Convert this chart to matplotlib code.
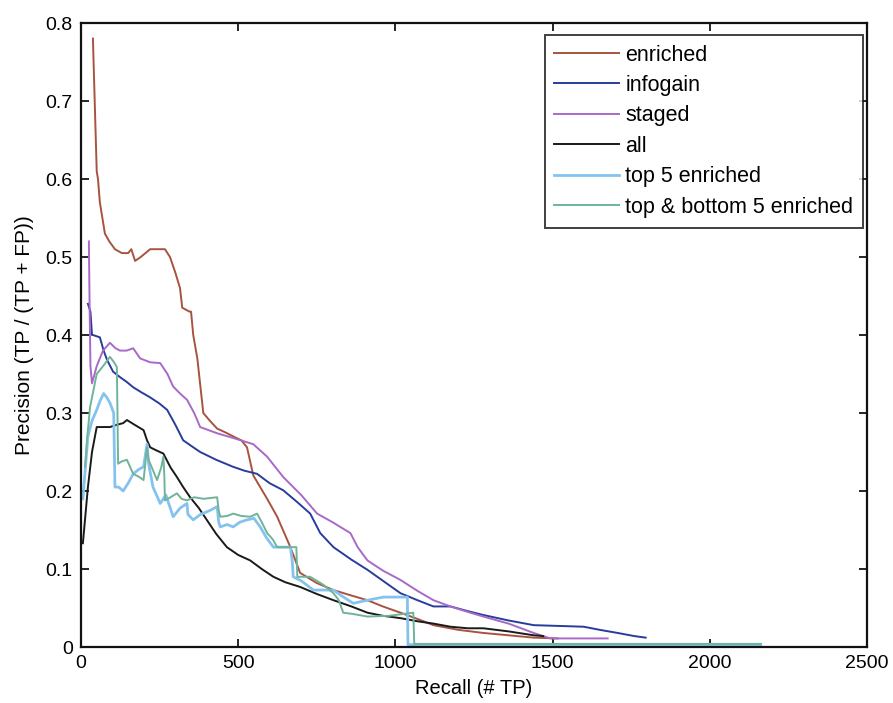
import matplotlib
matplotlib.use("Agg")
import matplotlib.pyplot as plt

plt.rcParams['font.family'] = ['Liberation Sans', 'DejaVu Sans']

# Precision vs. recall curves for each feature-selection strategy
enriched_x = [38, 40, 45, 50, 54, 60, 68, 76, 90, 108, 130, 150, 160, 172, 190, 220, 245, 267, 283, 300,
              315, 322, 345, 350, 357, 370, 389, 410, 433, 460, 484, 510, 528, 548, 570, 592, 624, 666, 697,
              750, 803, 860, 911, 960, 1016, 1070, 1121, 1200, 1280, 1360, 1440, 1516]
enriched_y = [0.78, 0.75, 0.68, 0.61, 0.60, 0.57, 0.55, 0.53, 0.52, 0.51, 0.505, 0.505, 0.51, 0.495, 0.50,
              0.51, 0.51, 0.51, 0.50, 0.48, 0.46, 0.435, 0.43, 0.43, 0.40, 0.37, 0.30, 0.29, 0.28, 0.275,
              0.27, 0.265, 0.256, 0.22, 0.205, 0.19, 0.167, 0.128, 0.095, 0.082, 0.073, 0.066, 0.06, 0.052,
              0.044, 0.036, 0.028, 0.022, 0.018, 0.015, 0.012, 0.011]

infogain_x = [22, 30, 35, 38, 60, 72, 83, 102, 124, 145, 166, 190, 220, 250, 274, 300, 325, 350, 379, 430,
              484, 520, 560, 600, 643, 690, 729, 761, 803, 860, 911, 960, 1016, 1070, 1121, 1175, 1230, 1280,
              1360, 1440, 1520, 1599, 1650, 1707, 1760, 1796]
infogain_y = [0.44, 0.43, 0.40, 0.40, 0.397, 0.38, 0.368, 0.353, 0.346, 0.34, 0.333, 0.327, 0.32, 0.312,
              0.304, 0.285, 0.265, 0.258, 0.25, 0.24, 0.231, 0.226, 0.222, 0.21, 0.201, 0.185, 0.171, 0.146,
              0.128, 0.112, 0.099, 0.085, 0.069, 0.06, 0.052, 0.052, 0.046, 0.041, 0.034, 0.028, 0.027, 0.026,
              0.022, 0.018, 0.014, 0.012]

staged_x = [25, 27, 30, 35, 50, 70, 92, 110, 124, 145, 166, 188, 220, 252, 275, 293, 315, 337, 360, 379,
            433, 484, 548, 592, 643, 700, 751, 800, 857, 880, 911, 960, 1016, 1070, 1121, 1175, 1230, 1280,
            1360, 1440, 1493, 1580, 1675]
staged_y = [0.52, 0.45, 0.36, 0.338, 0.36, 0.38, 0.39, 0.383, 0.38, 0.38, 0.383, 0.37, 0.365, 0.364, 0.35,
            0.334, 0.325, 0.317, 0.30, 0.282, 0.274, 0.268, 0.26, 0.244, 0.218, 0.195, 0.171, 0.16, 0.146,
            0.128, 0.111, 0.098, 0.086, 0.072, 0.06, 0.052, 0.045, 0.039, 0.03, 0.018, 0.011, 0.011, 0.011]

all_x = [6, 12, 22, 35, 50, 70, 92, 115, 134, 146, 170, 199, 210, 220, 240, 262, 285, 305, 325, 347, 375,
         400, 430, 464, 500, 538, 575, 612, 650, 697, 750, 803, 860, 911, 960, 1016, 1070, 1121, 1175, 1230,
         1280, 1360, 1440, 1470]
all_y = [0.133, 0.16, 0.205, 0.25, 0.282, 0.282, 0.282, 0.285, 0.287, 0.291, 0.285, 0.278, 0.265, 0.256,
         0.252, 0.248, 0.23, 0.218, 0.205, 0.192, 0.178, 0.163, 0.145, 0.128, 0.118, 0.111, 0.10, 0.09,
         0.083, 0.077, 0.068, 0.06, 0.052, 0.044, 0.04, 0.037, 0.033, 0.03, 0.026, 0.024, 0.024, 0.02,
         0.015, 0.014]

top5_x = [6, 12, 22, 35, 50, 60, 72, 82, 92, 104, 108, 120, 134, 150, 166, 185, 199, 210, 215, 229, 240,
          252, 270, 293, 315, 337, 340, 357, 380, 410, 433, 438, 443, 465, 484, 505, 528, 550, 570, 590,
          612, 640, 666, 672, 675, 700, 739, 770, 803, 835, 866, 911, 962, 1000, 1038, 1040, 1100, 1300,
          1600, 1900, 2162]
top5_y = [0.19, 0.22, 0.27, 0.29, 0.304, 0.315, 0.325, 0.32, 0.313, 0.30, 0.205, 0.205, 0.20, 0.21, 0.222,
          0.228, 0.231, 0.26, 0.235, 0.205, 0.195, 0.184, 0.195, 0.167, 0.178, 0.184, 0.17, 0.163, 0.17,
          0.175, 0.18, 0.16, 0.154, 0.157, 0.154, 0.16, 0.163, 0.165, 0.154, 0.14, 0.128, 0.128, 0.128,
          0.11, 0.09, 0.085, 0.073, 0.073, 0.073, 0.064, 0.056, 0.06, 0.064, 0.064, 0.064, 0.003, 0.003,
          0.003, 0.003, 0.003, 0.003]

topbottom5_x = [13, 20, 29, 40, 50, 70, 92, 105, 114, 116, 118, 130, 146, 166, 185, 199, 210, 215, 242, 255,
                262, 265, 267, 285, 305, 320, 337, 360, 390, 433, 438, 443, 465, 484, 510, 538, 560, 575,
                592, 610, 624, 660, 685, 688, 710, 729, 770, 803, 820, 834, 870, 911, 980, 1057, 1060, 1100,
                1300, 1600, 1900, 2162]
topbottom5_y = [0.231, 0.27, 0.308, 0.33, 0.35, 0.36, 0.372, 0.365, 0.359, 0.30, 0.235, 0.238, 0.24, 0.222,
                0.218, 0.214, 0.256, 0.24, 0.214, 0.23, 0.244, 0.22, 0.188, 0.192, 0.197, 0.19, 0.188,
                0.192, 0.19, 0.192, 0.175, 0.167, 0.168, 0.171, 0.168, 0.167, 0.171, 0.16, 0.146, 0.138,
                0.128, 0.128, 0.128, 0.09, 0.09, 0.09, 0.08, 0.069, 0.06, 0.044, 0.042, 0.039, 0.04, 0.044,
                0.004, 0.004, 0.004, 0.004, 0.004, 0.004]

series = [
    ("enriched", enriched_x, enriched_y, "#a8533f"),
    ("infogain", infogain_x, infogain_y, "#283c9c"),
    ("staged", staged_x, staged_y, "#a869c8"),
    ("all", all_x, all_y, "#1a1a1a"),
    ("top 5 enriched", top5_x, top5_y, "#85c3ee"),
    ("top & bottom 5 enriched", topbottom5_x, topbottom5_y, "#6fb49a"),
]

fig = plt.figure(figsize=(8.93, 7.03), dpi=100)
ax = fig.add_axes([81 / 893, 1 - 647 / 703, 786 / 893, 624 / 703])

for name, xs, ys, color in series:
    lw = 2.0 if name == "top 5 enriched" else 1.4
    ax.plot(xs, ys, color=color, lw=lw, label=name)

ax.set_xlim(0, 2500)
ax.set_ylim(0, 0.8)
ax.set_xticks([0, 500, 1000, 1500, 2000, 2500])
ax.set_yticks([0, 0.1, 0.2, 0.3, 0.4, 0.5, 0.6, 0.7, 0.8])
ax.set_yticklabels(["0", "0.1", "0.2", "0.3", "0.4", "0.5", "0.6", "0.7", "0.8"])
ax.tick_params(direction="in", top=True, right=True, length=6, width=1.2, labelsize=14, pad=6)
for sp in ax.spines.values():
    sp.set_linewidth(1.6)
    sp.set_color("#111111")

ax.set_xlabel("Recall (# TP)", fontsize=14.5, labelpad=5)
ax.set_ylabel("Precision (TP / (TP + FP))", fontsize=15, labelpad=8)

leg = ax.legend(loc="upper right", bbox_to_anchor=(0.995, 0.981), fontsize=15.5, frameon=True,
                fancybox=False, edgecolor="#111111", handlelength=3.0, handletextpad=0.3,
                borderpad=0.45, labelspacing=0.44, borderaxespad=0.0)
leg.get_frame().set_linewidth(1.4)

fig.savefig("out.png", dpi=100)
